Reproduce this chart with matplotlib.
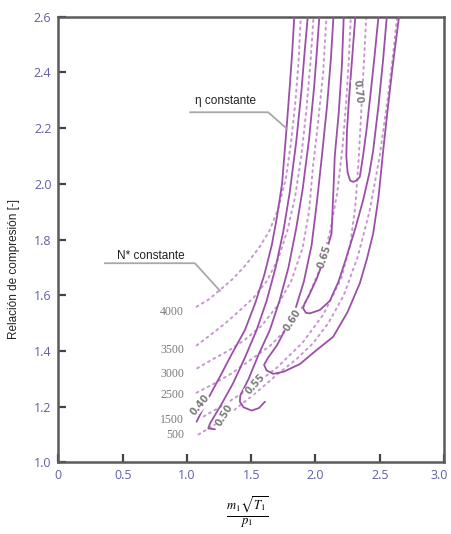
"""Mapa de compresor: curvas de rendimiento constante y de N* constante."""

import matplotlib

matplotlib.use("Agg")
import matplotlib.pyplot as plt
from matplotlib.transforms import ScaledTranslation

# --- rendimiento constante (lineas continuas) --------------------------------
ETA_040_X = [1.075, 1.16, 1.257, 1.35, 1.451, 1.53, 1.60, 1.66, 1.70, 1.74, 1.775, 1.80, 1.82, 1.835]
ETA_040_Y = [1.146, 1.225, 1.308, 1.39, 1.475, 1.57, 1.67, 1.78, 1.88, 2.00, 2.199, 2.35, 2.48, 2.60]

ETA_050_X = [1.218, 1.166, 1.18, 1.27, 1.36, 1.45, 1.542, 1.62, 1.69, 1.75, 1.80, 1.85, 1.89, 1.915, 1.94]
ETA_050_Y = [1.119, 1.122, 1.14, 1.21, 1.285, 1.375, 1.475, 1.58, 1.70, 1.83, 1.97, 2.15, 2.33, 2.47, 2.60]

ETA_055_X = [1.607, 1.56, 1.503, 1.44, 1.412, 1.415, 1.48, 1.56, 1.645, 1.72, 1.79, 1.85, 1.90, 1.95, 1.99, 2.01, 2.03]
ETA_055_Y = [1.218, 1.195, 1.186, 1.198, 1.218, 1.24, 1.30, 1.39, 1.475, 1.58, 1.70, 1.84, 1.98, 2.16, 2.35, 2.47, 2.60]

ETA_060_X = [2.14, 2.12, 2.09, 2.05, 2.01, 1.97, 1.91, 1.85, 1.78, 1.70, 1.63, 1.60, 1.62, 1.671,
             1.75, 1.879, 2.00, 2.138, 2.25, 2.345, 2.40, 2.449, 2.49, 2.527, 2.56, 2.60, 2.65]
ETA_060_Y = [2.60, 2.45, 2.28, 2.10, 1.93, 1.78, 1.65, 1.56, 1.49, 1.42, 1.375, 1.35, 1.33, 1.318,
             1.325, 1.353, 1.40, 1.451, 1.54, 1.643, 1.73, 1.822, 1.95, 2.12, 2.26, 2.42, 2.60]

ETA_065_X = [2.22, 2.205, 2.18, 2.15, 2.14, 2.125, 2.073, 2.01, 1.95, 1.915, 1.904, 1.925, 1.956,
             2.034, 2.112, 2.18, 2.242, 2.31, 2.371, 2.42, 2.449, 2.49, 2.525, 2.555]
ETA_065_Y = [2.60, 2.42, 2.25, 2.10, 1.98, 1.822, 1.738, 1.66, 1.60, 1.57, 1.553, 1.537, 1.535,
             1.547, 1.58, 1.65, 1.738, 1.84, 1.942, 2.04, 2.12, 2.28, 2.44, 2.60]

ETA_070_X = [2.31, 2.285, 2.26, 2.245, 2.24, 2.25, 2.27, 2.293, 2.32, 2.345, 2.37, 2.397, 2.43, 2.46, 2.49]
ETA_070_Y = [2.60, 2.45, 2.30, 2.19, 2.10, 2.04, 2.012, 2.007, 2.012, 2.025, 2.10, 2.193, 2.33, 2.46, 2.60]

# --- N* constante (lineas punteadas) -----------------------------------------
N4000_X = [1.075, 1.17, 1.257, 1.36, 1.46, 1.56, 1.64, 1.71, 1.77, 1.81, 1.845, 1.87, 1.885]
N4000_Y = [1.559, 1.585, 1.619, 1.66, 1.71, 1.77, 1.83, 1.91, 2.02, 2.15, 2.30, 2.45, 2.60]

N3500_X = [1.075, 1.19, 1.30, 1.41, 1.516, 1.62, 1.71, 1.78, 1.84, 1.89, 1.93, 1.96, 1.985]
N3500_Y = [1.42, 1.46, 1.50, 1.545, 1.59, 1.65, 1.73, 1.83, 1.95, 2.10, 2.27, 2.43, 2.60]

N3000_X = [1.08, 1.20, 1.32, 1.45, 1.58, 1.70, 1.81, 1.90, 1.95, 1.98, 2.02, 2.06, 2.085]
N3000_Y = [1.338, 1.37, 1.40, 1.44, 1.49, 1.56, 1.65, 1.77, 1.90, 2.06, 2.22, 2.40, 2.60]

N2500_X = [1.075, 1.20, 1.35, 1.50, 1.65, 1.80, 1.93, 2.03, 2.11, 2.17, 2.21, 2.24, 2.26, 2.275]
N2500_Y = [1.25, 1.28, 1.32, 1.37, 1.42, 1.49, 1.58, 1.69, 1.82, 1.97, 2.13, 2.30, 2.45, 2.60]

N1500_X = [1.13, 1.30, 1.50, 1.70, 1.90, 2.06, 2.20, 2.27, 2.31, 2.335, 2.355, 2.375, 2.395]
N1500_Y = [1.165, 1.21, 1.27, 1.34, 1.43, 1.53, 1.66, 1.78, 1.92, 2.08, 2.25, 2.42, 2.60]

N500_X = [1.09, 1.25, 1.40, 1.55, 1.70, 1.85, 1.98, 2.10, 2.22, 2.33, 2.42, 2.50, 2.56, 2.60, 2.635]
N500_Y = [1.10, 1.145, 1.20, 1.255, 1.315, 1.37, 1.427, 1.50, 1.60, 1.74, 1.90, 2.10, 2.30, 2.45, 2.60]

SPEED_LABELS = ["4000", "3500", "3000", "2500", "1500", "500"]
SPEED_LABEL_Y = [1.541, 1.403, 1.317, 1.242, 1.152, 1.098]

ETA_LABELS = ["0.40", "0.50", "0.55", "0.60", "0.65", "0.70"]
ETA_LABEL_X = [1.10, 1.29, 1.53, 1.82, 2.07, 2.325]
ETA_LABEL_Y = [1.205, 1.17, 1.28, 1.51, 1.74, 2.33]
ETA_LABEL_ROT = [50, 58, 48, 58, 72, -84]

X_TICKS = [0, 0.5, 1.0, 1.5, 2.0, 2.5, 3.0]
X_TICK_LABELS = ["0", "0.5", "1.0", "1.5", "2.0", "2.5", "3.0"]
Y_TICKS = [1.0, 1.2, 1.4, 1.6, 1.8, 2.0, 2.2, 2.4, 2.6]
Y_TICK_LABELS = ["1.0", "1.2", "1.4", "1.6", "1.8", "2.0", "2.2", "2.4", "2.6"]

COLOR_ETA = "#9c4fa8"
COLOR_SPEED = "#c896d0"
COLOR_LABEL = "#7a7a7a"
COLOR_TICK = "#5f5fa8"
COLOR_SPINE = "#5a5a5a"
COLOR_LEADER = "#a8a8a8"

fig = plt.figure(figsize=(4.51, 5.34), dpi=100)
ax = fig.add_axes([0.1295, 0.1341, 0.8550, 0.8346])

for xs, ys in [
    (N4000_X, N4000_Y),
    (N3500_X, N3500_Y),
    (N3000_X, N3000_Y),
    (N2500_X, N2500_Y),
    (N1500_X, N1500_Y),
    (N500_X, N500_Y),
]:
    ax.plot(xs, ys, color=COLOR_SPEED, linewidth=1.4, linestyle=(0, (1, 2.2)),
            dash_capstyle="round", zorder=2)

for xs, ys in [
    (ETA_040_X, ETA_040_Y),
    (ETA_050_X, ETA_050_Y),
    (ETA_055_X, ETA_055_Y),
    (ETA_060_X, ETA_060_Y),
    (ETA_065_X, ETA_065_Y),
    (ETA_070_X, ETA_070_Y),
]:
    ax.plot(xs, ys, color=COLOR_ETA, linewidth=1.3, solid_capstyle="round", zorder=3)

for label, y in zip(SPEED_LABELS, SPEED_LABEL_Y):
    ax.text(0.977, y, label, ha="right", va="center", fontsize=8.5,
            family="Liberation Serif", color=COLOR_LABEL, zorder=4)

for label, x, y, rot in zip(ETA_LABELS, ETA_LABEL_X, ETA_LABEL_Y, ETA_LABEL_ROT):
    ax.text(x, y, label, ha="center", va="center", rotation=rot, fontsize=7,
            fontweight="bold", color=COLOR_LABEL, rotation_mode="anchor",
            bbox=dict(facecolor="white", edgecolor="none", pad=0.3), zorder=5)

# leader lines for the two annotations
ax.plot([1.025, 1.632, 1.775], [2.257, 2.257, 2.199], color=COLOR_LEADER,
        linewidth=1.3, zorder=4)
ax.text(1.063, 2.297, "\u03b7 constante", fontsize=8.5, family="Liberation Sans",
        color="#222222", va="center", ha="left")
ax.plot([0.362, 1.062, 1.257], [1.715, 1.715, 1.616], color=COLOR_LEADER,
        linewidth=1.3, zorder=4)
ax.text(0.453, 1.741, "N* constante", fontsize=8.5, family="Liberation Sans",
        color="#222222", va="center", ha="left")

ax.set_xlim(0, 3.0)
ax.set_ylim(1.0, 2.6)
ax.set_xticks(X_TICKS)
ax.set_xticklabels(X_TICK_LABELS)
ax.set_yticks(Y_TICKS)
ax.set_yticklabels(Y_TICK_LABELS)
ax.tick_params(direction="in", length=6, width=1.6, color="#444444",
               labelcolor=COLOR_TICK, labelsize=9, pad=5)
for lab in ax.get_xticklabels() + ax.get_yticklabels():
    lab.set_family("Open Sans")
# keep the last x label inside the figure edge
last = ax.get_xticklabels()[-1]
last.set_transform(last.get_transform() + ScaledTranslation(-5 / 100, 0, fig.dpi_scale_trans))

for spine in ax.spines.values():
    spine.set_color(COLOR_SPINE)
    spine.set_linewidth(1.8)

ax.set_ylabel("Relación de compresión [-]", fontsize=8.5, family="Liberation Sans",
              color="#222222")
ax.yaxis.set_label_coords(-0.1, 0.434)

plt.rcParams["mathtext.fontset"] = "stix"
fig.text(247.5 / 451, 1 - 512 / 534, r"$\frac{m_1\sqrt{T_1}}{p_1}$",
         fontsize=13, ha="center", va="center")

fig.savefig("out.png", dpi=100)
